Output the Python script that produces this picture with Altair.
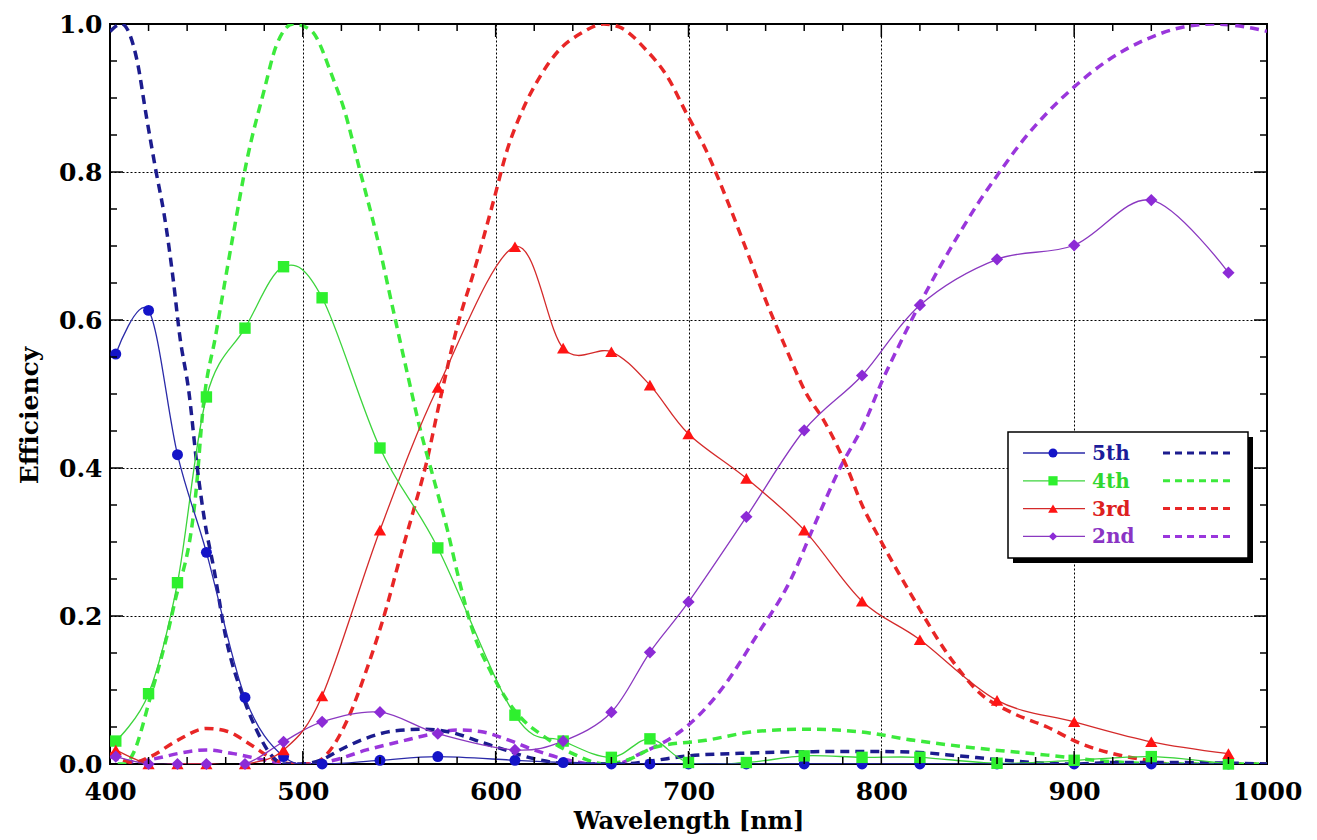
import altair as alt
import pandas as pd

# ---------------- data ----------------
orders = ["5th", "4th", "3rd", "2nd"]
marker_colors = ["#1414c8", "#2ef02e", "#ff1414", "#8c2bd6"]
line_colors = ["#2a2aa8", "#3cd43c", "#d42a2a", "#8a38c0"]
dash_colors = ["#1c1c8e", "#3cea3c", "#e82626", "#9a36dc"]
text_colors = ["#1c1c9a", "#30d830", "#dd2020", "#8a34c4"]
shapes = ["circle", "square", "triangle-up", "diamond"]

# measured efficiencies (markers + thin solid lines)
wl_meas = [403, 420, 435, 450, 470, 490, 510, 540, 570, 610, 635,
           660, 680, 700, 730, 760, 790, 820, 860, 900, 940, 980]
eff_5th = [0.554, 0.613, 0.418, 0.286, 0.090, 0.010, 0.0, 0.005, 0.010, 0.005, 0.002,
           0.0, 0.0, 0.0, 0.0, 0.0, 0.0, 0.0, 0.0, 0.0, 0.0, 0.0]
eff_4th = [0.031, 0.095, 0.245, 0.496, 0.589, 0.672, 0.630, 0.427, 0.292, 0.066, 0.031,
           0.009, 0.034, 0.002, 0.002, 0.011, 0.009, 0.009, 0.001, 0.005, 0.010, 0.0]
eff_3rd = [0.019, 0.0, 0.0, 0.0, 0.0, 0.019, 0.092, 0.316, 0.509, 0.699, 0.562,
           0.557, 0.512, 0.446, 0.386, 0.316, 0.220, 0.168, 0.086, 0.057, 0.030, 0.014]
eff_2nd = [0.010, 0.0, 0.0, 0.0, 0.0, 0.030, 0.057, 0.070, 0.041, 0.019, 0.031,
           0.070, 0.151, 0.219, 0.334, 0.451, 0.525, 0.620, 0.682, 0.701, 0.762, 0.664]

# theoretical efficiencies (dashed curves)
wl_th_5th = [400, 406, 414, 419, 424, 428, 433, 436, 441, 445, 449, 454, 460, 469, 476,
             483, 490, 500, 510, 520, 533, 548, 563, 578, 592, 606, 620, 635, 650, 665,
             680, 700, 727, 760, 790, 817, 840, 860, 885, 900, 920, 950, 1000]
eff_th_5th = [0.99, 1.0, 0.951, 0.873, 0.799, 0.744, 0.65, 0.582, 0.501, 0.406, 0.330,
              0.262, 0.172, 0.091, 0.046, 0.014, 0.0, 0.0, 0.006, 0.020, 0.035, 0.045,
              0.047, 0.042, 0.030, 0.018, 0.007, 0.001, 0.0, 0.0, 0.004, 0.011, 0.0145,
              0.0166, 0.017, 0.016, 0.011, 0.006, 0.001, 0.0, 0.002, 0.002, 0.0]

wl_th_4th = [404, 408, 412, 421, 433, 445, 448, 455, 464, 471, 480, 486, 495, 504, 516,
             521, 530, 538, 548, 554, 561, 568, 575, 581, 588, 597, 606, 616, 623, 640,
             657, 668, 683, 709, 735, 761, 787, 817, 851, 886, 911, 950, 1000]
eff_th_4th = [0.0, 0.0, 0.014, 0.091, 0.212, 0.379, 0.474, 0.582, 0.717, 0.816, 0.911,
              0.969, 1.0, 0.992, 0.924, 0.888, 0.798, 0.717, 0.600, 0.530, 0.451, 0.384,
              0.316, 0.249, 0.181, 0.127, 0.086, 0.055, 0.041, 0.014, 0.0, 0.005, 0.023,
              0.032, 0.044, 0.047, 0.044, 0.032, 0.021, 0.012, 0.005, 0.0, 0.0]

wl_th_3rd = [400, 412, 421, 435, 450, 461, 473, 486, 495, 505, 512, 523, 533, 543, 550,
             557, 564, 571, 581, 588, 599, 606, 614, 623, 633, 644, 656, 664, 678, 689,
             699, 709, 720, 730, 740, 751, 761, 770, 782, 790, 799, 817, 834, 851, 868,
             886, 903, 920, 938, 950, 1000]
eff_th_3rd = [0.015, 0.002, 0.010, 0.032, 0.048, 0.044, 0.026, 0.005, 0.0, 0.0, 0.012,
              0.059, 0.127, 0.208, 0.275, 0.339, 0.406, 0.49, 0.6, 0.659, 0.762, 0.83,
              0.884, 0.929, 0.965, 0.987, 1.0, 0.996, 0.965, 0.929, 0.879, 0.83, 0.762,
              0.695, 0.627, 0.559, 0.501, 0.465, 0.402, 0.35, 0.305, 0.222, 0.150, 0.096,
              0.069, 0.050, 0.028, 0.014, 0.005, 0.0, 0.0]

wl_th_2nd = [400, 412, 425, 435, 450, 464, 481, 495, 505, 516, 533, 550, 568, 580, 592,
             606, 620, 635, 650, 662, 675, 692, 701, 718, 735, 753, 765, 778, 792, 800,
             810, 820, 830, 840, 850, 860, 872, 886, 900, 917, 938, 955, 972, 989, 1000]
eff_th_2nd = [0.010, 0.003, 0.008, 0.014, 0.019, 0.014, 0.005, 0.0, 0.0, 0.005, 0.019,
              0.030, 0.041, 0.046, 0.044, 0.033, 0.019, 0.007, 0.0, 0.0, 0.014, 0.037,
              0.055, 0.104, 0.172, 0.249, 0.321, 0.397, 0.465, 0.515, 0.570, 0.622, 0.670,
              0.715, 0.757, 0.795, 0.838, 0.880, 0.915, 0.950, 0.980, 0.995, 1.0, 0.996, 0.99]

# axis tick positions
x_labels = [400, 500, 600, 700, 800, 900, 1000]
y_labels = [0.0, 0.2, 0.4, 0.6, 0.8, 1.0]
x_major = [500, 600, 700, 800, 900]
x_minor = [v for v in range(420, 1000, 20) if v % 100 != 0]
y_major = [0.2, 0.4, 0.6, 0.8]
y_minor = [0.05, 0.1, 0.15, 0.25, 0.3, 0.35, 0.45, 0.5, 0.55, 0.65, 0.7, 0.75, 0.85, 0.9, 0.95]

# ---------------- chart ----------------
W, H = 1157, 740
FONT = "DejaVu Serif"

xscale = alt.Scale(domain=[400, 1000], nice=False, zero=False)
yscale = alt.Scale(domain=[0, 1], nice=False, zero=False)

x_axis = alt.Axis(values=x_labels, format="d", title="Wavelength [nm]",
                  labelFont=FONT, labelFontSize=25, labelFontWeight="bold", labelColor="black",
                  labelFlush=False, labelOverlap=False, labelBaseline="alphabetic", labelPadding=35,
                  ticks=False, tickSize=0, domain=False,
                  grid=True, gridColor="black", gridDash=[2, 2], gridWidth=1, gridOpacity=1,
                  titleFont=FONT, titleFontSize=24, titleFontWeight="bold", titleColor="black",
                  titleBaseline="alphabetic", titleY=64)
y_axis = alt.Axis(values=y_labels, format=".1f", title="Efficiency",
                  labelFont=FONT, labelFontSize=25, labelFontWeight="bold", labelColor="black",
                  labelFlush=False, labelOverlap=False, labelPadding=8,
                  ticks=False, tickSize=0, domain=False,
                  grid=True, gridColor="black", gridDash=[2, 2], gridWidth=1, gridOpacity=1,
                  titleFont=FONT, titleFontSize=25, titleFontWeight="bold", titleColor="black",
                  titleAngle=270, titleBaseline="alphabetic", titleAlign="center",
                  titleX=-73, titleY=391)


def X(field):
    return alt.X(field, scale=xscale, axis=x_axis)


def Y(field):
    return alt.Y(field, scale=yscale, axis=y_axis)


meas = [eff_5th, eff_4th, eff_3rd, eff_2nd]
th_wl = [wl_th_5th, wl_th_4th, wl_th_3rd, wl_th_2nd]
th_eff = [eff_th_5th, eff_th_4th, eff_th_3rd, eff_th_2nd]
msizes = [120, 130, 150, 150]

layers = []
# dashed theory curves
for i in [3, 2, 1, 0]:
    df = pd.DataFrame({"wl": th_wl[i], "eff": th_eff[i]})
    layers.append(alt.Chart(df).mark_line(strokeDash=[9, 6], strokeWidth=3.5,
                                          interpolate="monotone", color=dash_colors[i],
                                          clip=True).encode(x=X("wl:Q"), y=Y("eff:Q")))
# measured solid lines
for i in [3, 2, 1, 0]:
    df = pd.DataFrame({"wl": wl_meas, "eff": meas[i]})
    layers.append(alt.Chart(df).mark_line(strokeWidth=1.3, interpolate="cardinal",
                                          color=line_colors[i], clip=True).encode(
        x=X("wl:Q"), y=Y("eff:Q")))
# markers
for i in [0, 1, 2, 3]:
    df = pd.DataFrame({"wl": wl_meas, "eff": meas[i]})
    layers.append(alt.Chart(df).mark_point(filled=True, shape=shapes[i], size=msizes[i],
                                           color=marker_colors[i], opacity=1,
                                           strokeWidth=0).encode(x=X("wl:Q"), y=Y("eff:Q")))


# inward ticks on all four sides
def xticks(vals, size, ypos):
    return alt.Chart(pd.DataFrame({"wl": vals})).mark_tick(
        orient="vertical", size=size, thickness=1.5, color="black", opacity=1).encode(
        x=X("wl:Q"), y=alt.value(ypos))


def yticks(vals, size, xpos):
    return alt.Chart(pd.DataFrame({"eff": vals})).mark_tick(
        orient="horizontal", size=size, thickness=1.5, color="black", opacity=1).encode(
        y=Y("eff:Q"), x=alt.value(xpos))


layers += [
    xticks(x_minor, 7, H - 3.5), xticks(x_minor, 7, 3.5),
    xticks(x_major, 13, H - 6.5), xticks(x_major, 13, 6.5),
    yticks(y_minor, 7, 3.5), yticks(y_minor, 7, W - 3.5),
    yticks(y_major, 13, 6.5), yticks(y_major, 13, W - 6.5),
]

# custom legend box
one = pd.DataFrame({"k": [0]})
bx0, bx1, by0, by1 = 898, 1138, 408, 534
layers.append(alt.Chart(one).mark_rect(fill="black").encode(
    x=alt.value(bx0 + 5), x2=alt.value(bx1 + 5), y=alt.value(by0 + 5), y2=alt.value(by1 + 5)))
layers.append(alt.Chart(one).mark_rect(fill="white", stroke="black", strokeWidth=1.5).encode(
    x=alt.value(bx0), x2=alt.value(bx1), y=alt.value(by0), y2=alt.value(by1)))
lsizes = [80, 85, 95, 70]
for i in range(4):
    ry = 429 + i * 27.8
    layers.append(alt.Chart(one).mark_rule(color=line_colors[i], strokeWidth=1.3).encode(
        x=alt.value(913), x2=alt.value(975), y=alt.value(ry)))
    layers.append(alt.Chart(one).mark_point(filled=True, shape=shapes[i], size=lsizes[i],
                                            color=marker_colors[i], opacity=1, strokeWidth=0).encode(
        x=alt.value(943), y=alt.value(ry)))
    layers.append(alt.Chart(one).mark_text(align="left", baseline="middle", font=FONT,
                                           fontSize=20, fontWeight="bold",
                                           color=text_colors[i]).encode(
        x=alt.value(982), y=alt.value(ry + 1), text=alt.value(orders[i])))
    layers.append(alt.Chart(one).mark_rule(color=dash_colors[i], strokeWidth=3,
                                           strokeDash=[7, 5]).encode(
        x=alt.value(1053), x2=alt.value(1120), y=alt.value(ry)))

chart = alt.layer(*layers).properties(
    width=W, height=H,
    autosize=alt.AutoSizeParams(type="none"),
    padding={"left": 102, "top": 16, "right": 42, "bottom": 74},
    background="white",
).configure_view(stroke="black", strokeWidth=2)

chart.save("out.html", embed_options={"renderer": "svg", "actions": False})
